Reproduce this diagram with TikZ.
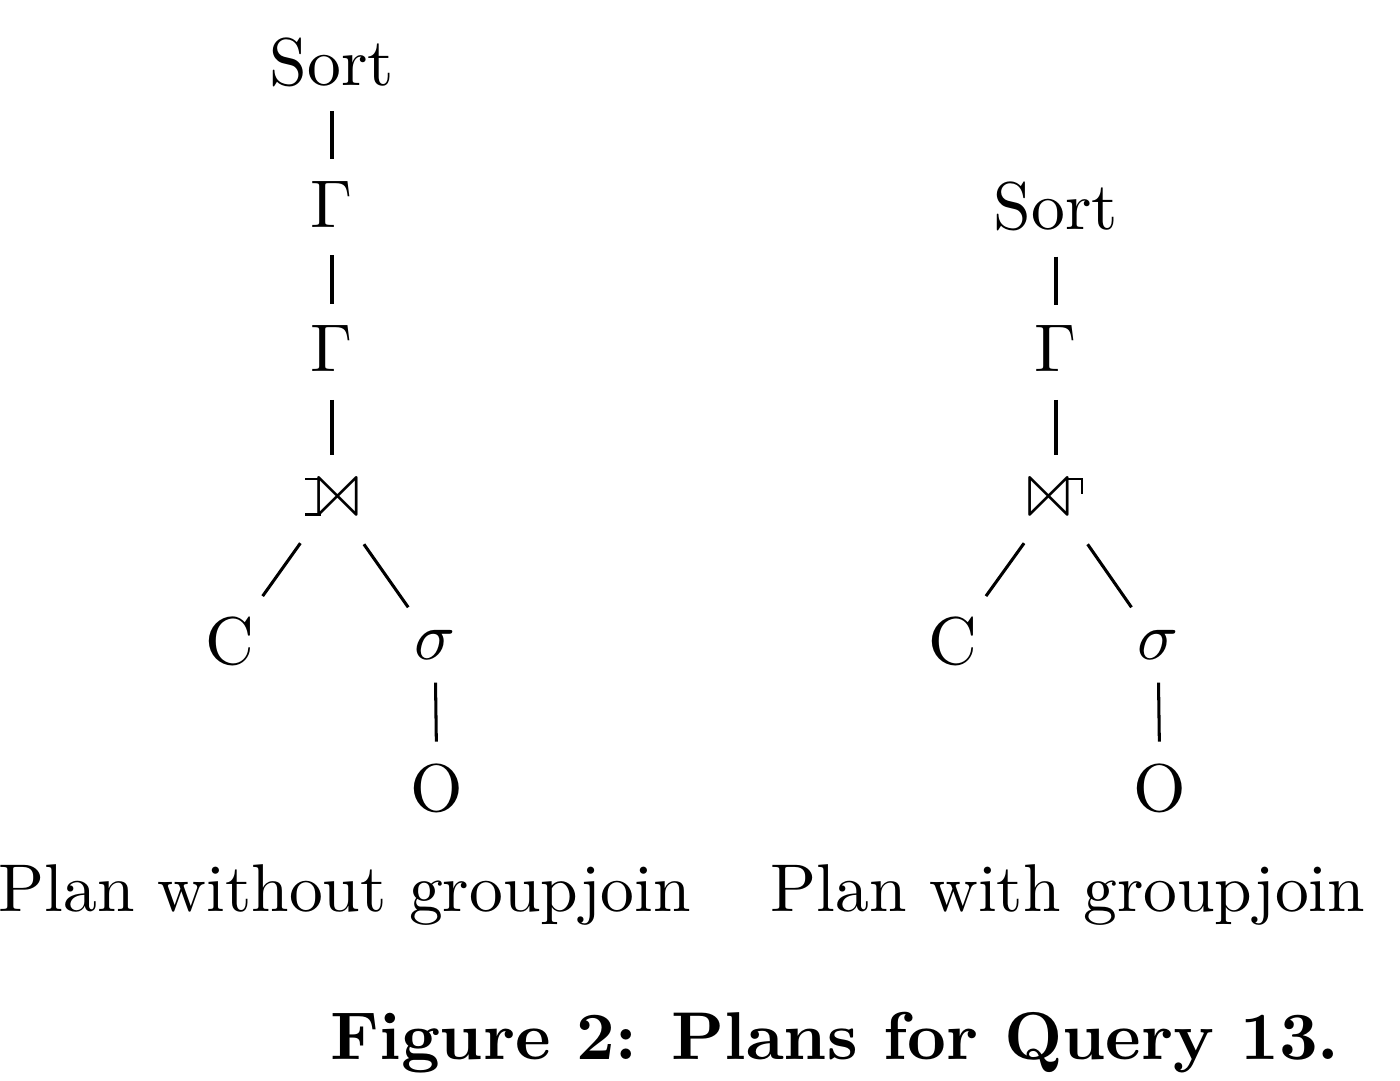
\documentclass[tikz,border=0pt]{standalone}
\usepackage{latexsym}
\usepackage{tikz}
\usetikzlibrary{calc}
% left outer join and groupjoin built on \Join (box trimmed to the ink)
\newcommand{\lojoin}{\rlap{\rule[0.63pt]{2.3pt}{0.4pt}}\rlap{\rule[5.86pt]{2.3pt}{0.4pt}}\kern1.23pt{\Join}\kern-0.6pt}
\newcommand{\gjoin}{\kern-0.67pt{\Join}\kern-0.8pt\rule[5.86pt]{2.3pt}{0.4pt}\kern-0.4pt\rule[3.9pt]{0.4pt}{2.36pt}}

\begin{document}
\begin{tikzpicture}[x=0.148pt,y=-0.148pt,op/.style={anchor=base,inner sep=0pt},edge/.style={line width=0.45pt}]
\useasboundingbox (0,0) rectangle (1400,1081);
% plan without groupjoin
\node[op] (sort1) at (332,86) {Sort};
\node[op] (gam1) at (332,228) {$\Gamma$};
\node[op] (gam2) at (332,372) {$\Gamma$};
\node[op] (join1) at (332,520) {$\lojoin$};
\node[op] (c1) at (230,665) {C};
\node[op] (sig1) at (435,660) {$\sigma$};
\node[op] (o1) at (437,812) {O};
\draw[edge] ($(sort1)!.34!(gam1)$) -- ($(sort1)!.68!(gam1)$);
\draw[edge] ($(gam1)!.35!(gam2)$) -- ($(gam1)!.69!(gam2)$);
\draw[edge] ($(gam2)!.34!(join1)$) -- ($(gam2)!.71!(join1)$);
\draw[edge] ($(join1)!.31!(c1)$) -- ($(join1)!.68!(c1)$);
\draw[edge] ($(join1)!.31!(sig1)$) -- ($(join1)!.74!(sig1)$);
\draw[edge] ($(sig1)!.26!(o1)$) -- ($(sig1)!.67!(o1)$);
% plan with groupjoin
\node[op] (sort2) at (1056,230) {Sort};
\node[op] (gam3) at (1056,372) {$\Gamma$};
\node[op] (join2) at (1056,520) {$\gjoin$};
\node[op] (c2) at (953,665) {C};
\node[op] (sig2) at (1158,660) {$\sigma$};
\node[op] (o2) at (1160,812) {O};
\draw[edge] ($(sort2)!.35!(gam3)$) -- ($(sort2)!.69!(gam3)$);
\draw[edge] ($(gam3)!.34!(join2)$) -- ($(gam3)!.71!(join2)$);
\draw[edge] ($(join2)!.31!(c2)$) -- ($(join2)!.68!(c2)$);
\draw[edge] ($(join2)!.31!(sig2)$) -- ($(join2)!.74!(sig2)$);
\draw[edge] ($(sig2)!.26!(o2)$) -- ($(sig2)!.67!(o2)$);
% labels
\node[op] (lab1) at (345,912) {Plan without groupjoin};
\node[op] (lab2) at (1068,912) {Plan with groupjoin};
\node[op] (cap) at (835,1060) {\bfseries Figure 2: Plans for Query 13.};
\end{tikzpicture}
\end{document}
